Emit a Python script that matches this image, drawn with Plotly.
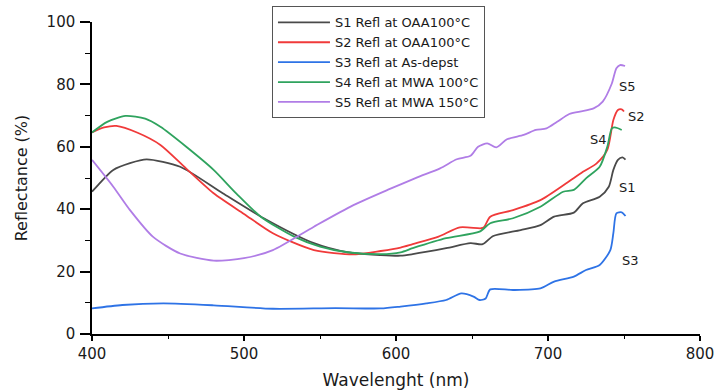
import plotly.graph_objects as go

# ---------------- data ----------------
s1_wl = [400, 414, 425, 436, 458, 486, 513, 546, 568, 590, 603, 611, 633, 649, 657, 664,
         682, 695, 704, 717, 723, 734, 740, 743, 746, 749, 751]
s1_r = [45.6, 52.6, 54.8, 56.0, 53.6, 45.1, 37.1, 29.1, 26.2, 25.3, 25.1, 25.6, 27.5, 29.1, 28.8, 31.4,
        33.3, 34.9, 37.6, 38.9, 41.9, 44.0, 47.2, 52.6, 55.8, 56.6, 55.9]

s2_wl = [400, 408, 416, 430, 445, 462, 480, 500, 519, 546, 572, 590, 603, 611, 628, 642,
         656, 658, 662, 677, 695, 712, 723, 732, 739, 743, 746, 748.5, 750]
s2_r = [64.6, 66.2, 66.7, 64.5, 60.6, 53.0, 45.1, 38.5, 32.3, 26.9, 25.5, 26.6, 27.7, 28.8, 31.2, 34.2,
        33.9, 34.3, 37.6, 39.7, 42.9, 48.3, 52.0, 54.7, 59.0, 68.6, 71.8, 72.0, 71.3]

s3_wl = [400, 420, 447, 480, 519, 560, 590, 603, 620, 633, 643, 651, 655, 659, 662, 677,
         695, 704, 717, 725, 734, 741, 743, 745, 748.5, 751]
s3_r = [8.2, 9.3, 9.8, 9.2, 8.1, 8.3, 8.2, 8.8, 9.8, 10.9, 13.0, 12.0, 10.9, 11.4, 14.3, 14.1,
        14.6, 16.8, 18.4, 20.5, 22.1, 26.9, 32.3, 38.7, 39.0, 37.8]

s4_wl = [400, 410, 422, 435, 445, 462, 480, 495, 511, 533, 550, 568, 590, 603, 611, 633,
         655, 662, 677, 695, 710, 717, 725, 734, 739, 742, 744, 748.5]
s4_r = [64.6, 68.0, 69.9, 69.0, 66.4, 60.0, 52.6, 45.0, 37.6, 31.2, 28.0, 26.2, 25.6, 26.2, 27.5, 30.7,
        32.8, 35.5, 37.1, 40.8, 45.6, 46.2, 49.9, 53.6, 60.0, 65.9, 66.2, 65.4]

s5_wl = [400, 414, 425, 440, 458, 480, 500, 519, 546, 572, 596, 614, 629, 640, 649, 654,
         660, 666, 673, 684, 692, 699, 706, 714, 721, 730, 736, 742, 745, 747.4, 750.7]
s5_r = [55.8, 47.2, 39.7, 31.2, 25.8, 23.5, 24.3, 26.9, 34.4, 41.3, 46.5, 50.2, 53.1, 56.0, 57.1, 60.0,
        61.1, 59.8, 62.4, 63.8, 65.4, 65.9, 68.0, 70.5, 71.3, 72.3, 74.5, 80.3, 85.2, 86.2, 85.9]

names = ["S1 Refl at OAA100°C", "S2 Refl at OAA100°C", "S3 Refl at As-depst",
         "S4 Refl at MWA 100°C", "S5 Refl at MWA 150°C"]
colors = ["#4a4a4a", "#f03a3a", "#2e73e6", "#2fa35e", "#b07de6"]

label_text = ["S1", "S2", "S3", "S4", "S5"]
label_wl = [752.3, 758.5, 754.0, 732.9, 752.3]
label_r = [47.1, 69.6, 23.4, 62.5, 79.2]

x_ticks = [400, 500, 600, 700, 800]
y_ticks = [0, 20, 40, 60, 80, 100]

# ---------------- figure ----------------
FONT = "DejaVu Sans"
TXT = "#1a1a1a"

fig = go.Figure()
series = [(s1_wl, s1_r), (s2_wl, s2_r), (s3_wl, s3_r), (s4_wl, s4_r), (s5_wl, s5_r)]
for (wl, r), nm, c in zip(series, names, colors):
    fig.add_trace(go.Scatter(x=wl, y=r, mode="lines", name=nm,
                             line=dict(color=c, width=1.8, shape="spline", smoothing=0.7)))

for t, xw, yr in zip(label_text, label_wl, label_r):
    fig.add_annotation(x=xw, y=yr, text=t, showarrow=False,
                       font=dict(family=FONT, size=13, color=TXT))

fig.update_layout(
    width=718, height=390,
    margin=dict(l=92, r=18, t=22, b=56, autoexpand=False),
    paper_bgcolor="white", plot_bgcolor="white",
    font=dict(family=FONT, color=TXT),
    showlegend=True,
    legend=dict(x=0.296, y=1.05, xanchor="left", yanchor="top",
                bgcolor="white", bordercolor="#555", borderwidth=1,
                itemwidth=52,
                font=dict(family=FONT, size=13, color=TXT)),
    xaxis=dict(range=[400, 800], tickvals=x_ticks, showline=True, linecolor="black",
               linewidth=1.5, ticks="outside", ticklen=5, tickwidth=1.5, tickcolor="black",
               showgrid=False, zeroline=False, ticklabelstandoff=0, automargin=False,
               minor=dict(dtick=50, ticks="outside", ticklen=3, tickcolor="black", tickwidth=1.2),
               tickfont=dict(family=FONT, size=15, color=TXT),
               title=dict(text="Wavelenght (nm)", font=dict(family=FONT, size=17, color=TXT))),
    yaxis=dict(range=[0, 100], tickvals=y_ticks, showline=True, linecolor="black",
               linewidth=1.5, ticks="outside", ticklen=10, tickwidth=1.5, tickcolor="black",
               showgrid=False, zeroline=False, ticklabelstandoff=2, automargin=False,
               minor=dict(dtick=10, ticks="outside", ticklen=5, tickcolor="black", tickwidth=1.2),
               tickfont=dict(family=FONT, size=15, color=TXT),
               title=dict(text="Reflectance (%)", font=dict(family=FONT, size=16, color=TXT))),
)

fig.write_html("out.html")
